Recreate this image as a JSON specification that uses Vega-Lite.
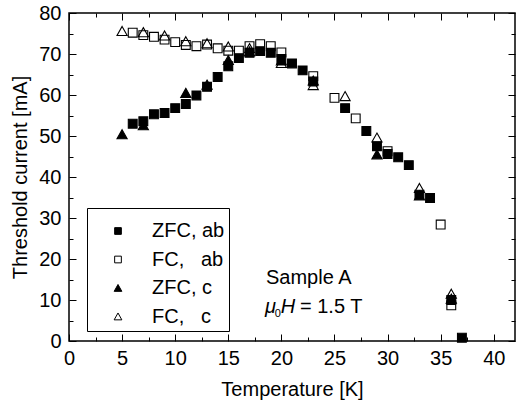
{
  "$schema": "https://vega.github.io/schema/vega-lite/v6.json",
  "width": 446,
  "height": 328,
  "autosize": "none",
  "padding": {"left": 69, "top": 13, "right": 11, "bottom": 68},
  "background": "white",
  "config": {
    "view": {"stroke": "black", "strokeWidth": 1.5},
    "font": "Liberation Sans",
    "axis": {
      "domain": false,
      "grid": false,
      "labelFlush": false,
      "tickColor": "black",
      "tickWidth": 1,
      "labelColor": "black",
      "labelFont": "Liberation Sans",
      "labelFontSize": 20,
      "titleFont": "Liberation Sans",
      "titleFontSize": 20,
      "titleFontWeight": "normal",
      "titleColor": "black"
    },
    "legend": {
      "orient": "none", "legendX": 18, "legendY": 195, "titleFontSize": 1, "titlePadding": 8, "strokeColor": "black", "padding": 4,
      "labelFont": "Liberation Sans", "labelFontSize": 20, "labelColor": "black", "symbolSize": 45, "symbolStrokeWidth": 1,
      "rowPadding": 8.5, "symbolOffset": 17, "labelOffset": 24
    }
  },
  "resolve": {"axis": {"x": "independent", "y": "independent"}},
  "layer": [
    {
      "data": {
        "values": [
          {"T": 6, "I": 53.0, "s": "ZFC, ab"},
          {"T": 7, "I": 53.6, "s": "ZFC, ab"},
          {"T": 8, "I": 55.3, "s": "ZFC, ab"},
          {"T": 9, "I": 55.6, "s": "ZFC, ab"},
          {"T": 10, "I": 56.8, "s": "ZFC, ab"},
          {"T": 11, "I": 57.8, "s": "ZFC, ab"},
          {"T": 12, "I": 59.9, "s": "ZFC, ab"},
          {"T": 13, "I": 62.0, "s": "ZFC, ab"},
          {"T": 14, "I": 64.4, "s": "ZFC, ab"},
          {"T": 15, "I": 67.0, "s": "ZFC, ab"},
          {"T": 16, "I": 69.0, "s": "ZFC, ab"},
          {"T": 17, "I": 70.3, "s": "ZFC, ab"},
          {"T": 18, "I": 70.7, "s": "ZFC, ab"},
          {"T": 19, "I": 70.3, "s": "ZFC, ab"},
          {"T": 20, "I": 68.8, "s": "ZFC, ab"},
          {"T": 21, "I": 67.7, "s": "ZFC, ab"},
          {"T": 22, "I": 66.0, "s": "ZFC, ab"},
          {"T": 23, "I": 63.3, "s": "ZFC, ab"},
          {"T": 26, "I": 56.8, "s": "ZFC, ab"},
          {"T": 28, "I": 51.2, "s": "ZFC, ab"},
          {"T": 29, "I": 47.5, "s": "ZFC, ab"},
          {"T": 30, "I": 45.6, "s": "ZFC, ab"},
          {"T": 31, "I": 44.8, "s": "ZFC, ab"},
          {"T": 32, "I": 42.9, "s": "ZFC, ab"},
          {"T": 33, "I": 35.7, "s": "ZFC, ab"},
          {"T": 34, "I": 34.9, "s": "ZFC, ab"},
          {"T": 36, "I": 10.0, "s": "ZFC, ab"},
          {"T": 37, "I": 0.8, "s": "ZFC, ab"},
          {"T": 5, "I": 50.4, "s": "ZFC, c"},
          {"T": 7, "I": 52.6, "s": "ZFC, c"},
          {"T": 11, "I": 60.5, "s": "ZFC, c"},
          {"T": 13, "I": 62.5, "s": "ZFC, c"},
          {"T": 15, "I": 68.5, "s": "ZFC, c"},
          {"T": 17, "I": 70.6, "s": "ZFC, c"},
          {"T": 20, "I": 68.4, "s": "ZFC, c"},
          {"T": 23, "I": 63.5, "s": "ZFC, c"},
          {"T": 29, "I": 45.5, "s": "ZFC, c"},
          {"T": 33, "I": 35.5, "s": "ZFC, c"},
          {"T": 36, "I": 10.3, "s": "ZFC, c"},
          {"T": 6, "I": 75.2, "s": "FC,\u00a0\u00a0 ab"},
          {"T": 7, "I": 74.6, "s": "FC,\u00a0\u00a0 ab"},
          {"T": 8, "I": 74.2, "s": "FC,\u00a0\u00a0 ab"},
          {"T": 9, "I": 73.5, "s": "FC,\u00a0\u00a0 ab"},
          {"T": 10, "I": 72.9, "s": "FC,\u00a0\u00a0 ab"},
          {"T": 11, "I": 72.2, "s": "FC,\u00a0\u00a0 ab"},
          {"T": 12, "I": 71.9, "s": "FC,\u00a0\u00a0 ab"},
          {"T": 13, "I": 72.3, "s": "FC,\u00a0\u00a0 ab"},
          {"T": 14, "I": 71.4, "s": "FC,\u00a0\u00a0 ab"},
          {"T": 15, "I": 70.8, "s": "FC,\u00a0\u00a0 ab"},
          {"T": 16, "I": 70.8, "s": "FC,\u00a0\u00a0 ab"},
          {"T": 17, "I": 71.9, "s": "FC,\u00a0\u00a0 ab"},
          {"T": 18, "I": 72.4, "s": "FC,\u00a0\u00a0 ab"},
          {"T": 19, "I": 71.9, "s": "FC,\u00a0\u00a0 ab"},
          {"T": 20, "I": 70.4, "s": "FC,\u00a0\u00a0 ab"},
          {"T": 23, "I": 64.6, "s": "FC,\u00a0\u00a0 ab"},
          {"T": 25, "I": 59.3, "s": "FC,\u00a0\u00a0 ab"},
          {"T": 27, "I": 54.3, "s": "FC,\u00a0\u00a0 ab"},
          {"T": 30, "I": 46.3, "s": "FC,\u00a0\u00a0 ab"},
          {"T": 35, "I": 28.4, "s": "FC,\u00a0\u00a0 ab"},
          {"T": 36, "I": 8.7, "s": "FC,\u00a0\u00a0 ab"},
          {"T": 5, "I": 75.6, "s": "FC,\u00a0\u00a0 c"},
          {"T": 7, "I": 75.3, "s": "FC,\u00a0\u00a0 c"},
          {"T": 9, "I": 74.5, "s": "FC,\u00a0\u00a0 c"},
          {"T": 11, "I": 73.1, "s": "FC,\u00a0\u00a0 c"},
          {"T": 13, "I": 72.6, "s": "FC,\u00a0\u00a0 c"},
          {"T": 15, "I": 71.8, "s": "FC,\u00a0\u00a0 c"},
          {"T": 17, "I": 71.4, "s": "FC,\u00a0\u00a0 c"},
          {"T": 20, "I": 67.8, "s": "FC,\u00a0\u00a0 c"},
          {"T": 23, "I": 62.4, "s": "FC,\u00a0\u00a0 c"},
          {"T": 26, "I": 59.7, "s": "FC,\u00a0\u00a0 c"},
          {"T": 29, "I": 49.6, "s": "FC,\u00a0\u00a0 c"},
          {"T": 33, "I": 37.3, "s": "FC,\u00a0\u00a0 c"},
          {"T": 36, "I": 11.5, "s": "FC,\u00a0\u00a0 c"}
        ]
      },
      "mark": {"type": "point", "filled": true, "strokeWidth": 1.1, "size": 78, "opacity": 1},
      "encoding": {
        "x": {
          "field": "T", "type": "quantitative",
          "scale": {"domain": [0, 42], "nice": false, "zero": false},
          "axis": {"orient": "bottom", "title": "Temperature [K]", "values": [0, 5, 10, 15, 20, 25, 30, 35, 40], "tickSize": -7, "labelPadding": 14, "titlePadding": 11}
        },
        "y": {
          "field": "I", "type": "quantitative",
          "scale": {"domain": [0, 80], "nice": false, "zero": false},
          "axis": {"orient": "left", "title": "Threshold current [mA]", "values": [0, 10, 20, 30, 40, 50, 60, 70, 80], "tickSize": -7, "labelPadding": 15, "titlePadding": 8}
        },
        "fill": {
          "field": "s", "type": "nominal",
          "scale": {"domain": ["ZFC, ab", "FC,\u00a0\u00a0 ab", "ZFC, c", "FC,\u00a0\u00a0 c"], "range": ["black", "transparent", "black", "transparent"]},
          "legend": {"title": " "}
        },
        "stroke": {
          "field": "s", "type": "nominal",
          "scale": {"domain": ["ZFC, ab", "FC,\u00a0\u00a0 ab", "ZFC, c", "FC,\u00a0\u00a0 c"], "range": ["black", "black", "black", "black"]},
          "legend": {"title": " "}
        },
        "shape": {
          "field": "s", "type": "nominal",
          "scale": {"domain": ["ZFC, ab", "FC,\u00a0\u00a0 ab", "ZFC, c", "FC,\u00a0\u00a0 c"], "range": ["square", "square", "M0,-1.05L1.15,1L-1.15,1Z", "M0,-1.05L1.15,1L-1.15,1Z"]},
          "legend": {"title": " "}
        }
      }
    },
    {
      "data": {"values": [{"T": 18.55, "I": 14.0, "label": "Sample A"}]},
      "mark": {"type": "text", "align": "left", "baseline": "alphabetic", "font": "Liberation Sans", "fontSize": 20, "color": "black"},
      "encoding": {
        "x": {"field": "T", "type": "quantitative", "axis": {"orient": "bottom", "title": null, "labels": false, "values": [2.5, 7.5, 12.5, 17.5, 22.5, 27.5, 32.5, 37.5], "tickSize": -4}},
        "y": {"field": "I", "type": "quantitative", "axis": {"orient": "left", "title": null, "labels": false, "values": [5, 15, 25, 35, 45, 55, 65, 75], "tickSize": -4}},
        "text": {"field": "label"}
      }
    },
    {
      "data": {"values": [{"T": 18.45, "I": 6.9, "label": "μ"}, {"T": 19.95, "I": 6.9, "label": "H"}]},
      "mark": {"type": "text", "align": "left", "baseline": "alphabetic", "font": "Liberation Sans", "fontSize": 20, "fontStyle": "italic", "color": "black"},
      "encoding": {
        "x": {"field": "T", "type": "quantitative", "axis": {"orient": "top", "title": null, "labels": false, "values": [0, 5, 10, 15, 20, 25, 30, 35, 40], "tickSize": -7}},
        "y": {"field": "I", "type": "quantitative", "axis": {"orient": "right", "title": null, "labels": false, "values": [0, 10, 20, 30, 40, 50, 60, 70, 80], "tickSize": -7}},
        "text": {"field": "label"}
      }
    },
    {
      "data": {"values": [{"T": 21.75, "I": 6.9, "label": "= 1.5 T"}]},
      "mark": {"type": "text", "align": "left", "baseline": "alphabetic", "font": "Liberation Sans", "fontSize": 20, "color": "black"},
      "encoding": {
        "x": {"field": "T", "type": "quantitative", "axis": {"orient": "top", "title": null, "labels": false, "values": [2.5, 7.5, 12.5, 17.5, 22.5, 27.5, 32.5, 37.5], "tickSize": -4}},
        "y": {"field": "I", "type": "quantitative", "axis": {"orient": "right", "title": null, "labels": false, "values": [5, 15, 25, 35, 45, 55, 65, 75], "tickSize": -4}},
        "text": {"field": "label"}
      }
    },
    {
      "data": {"values": [{"T": 19.38, "I": 5.9, "label": "0"}]},
      "mark": {"type": "text", "align": "left", "baseline": "alphabetic", "font": "Liberation Sans", "fontSize": 11, "color": "black"},
      "encoding": {
        "x": {"field": "T", "type": "quantitative", "axis": null},
        "y": {"field": "I", "type": "quantitative", "axis": null},
        "text": {"field": "label"}
      }
    }
  ]
}
